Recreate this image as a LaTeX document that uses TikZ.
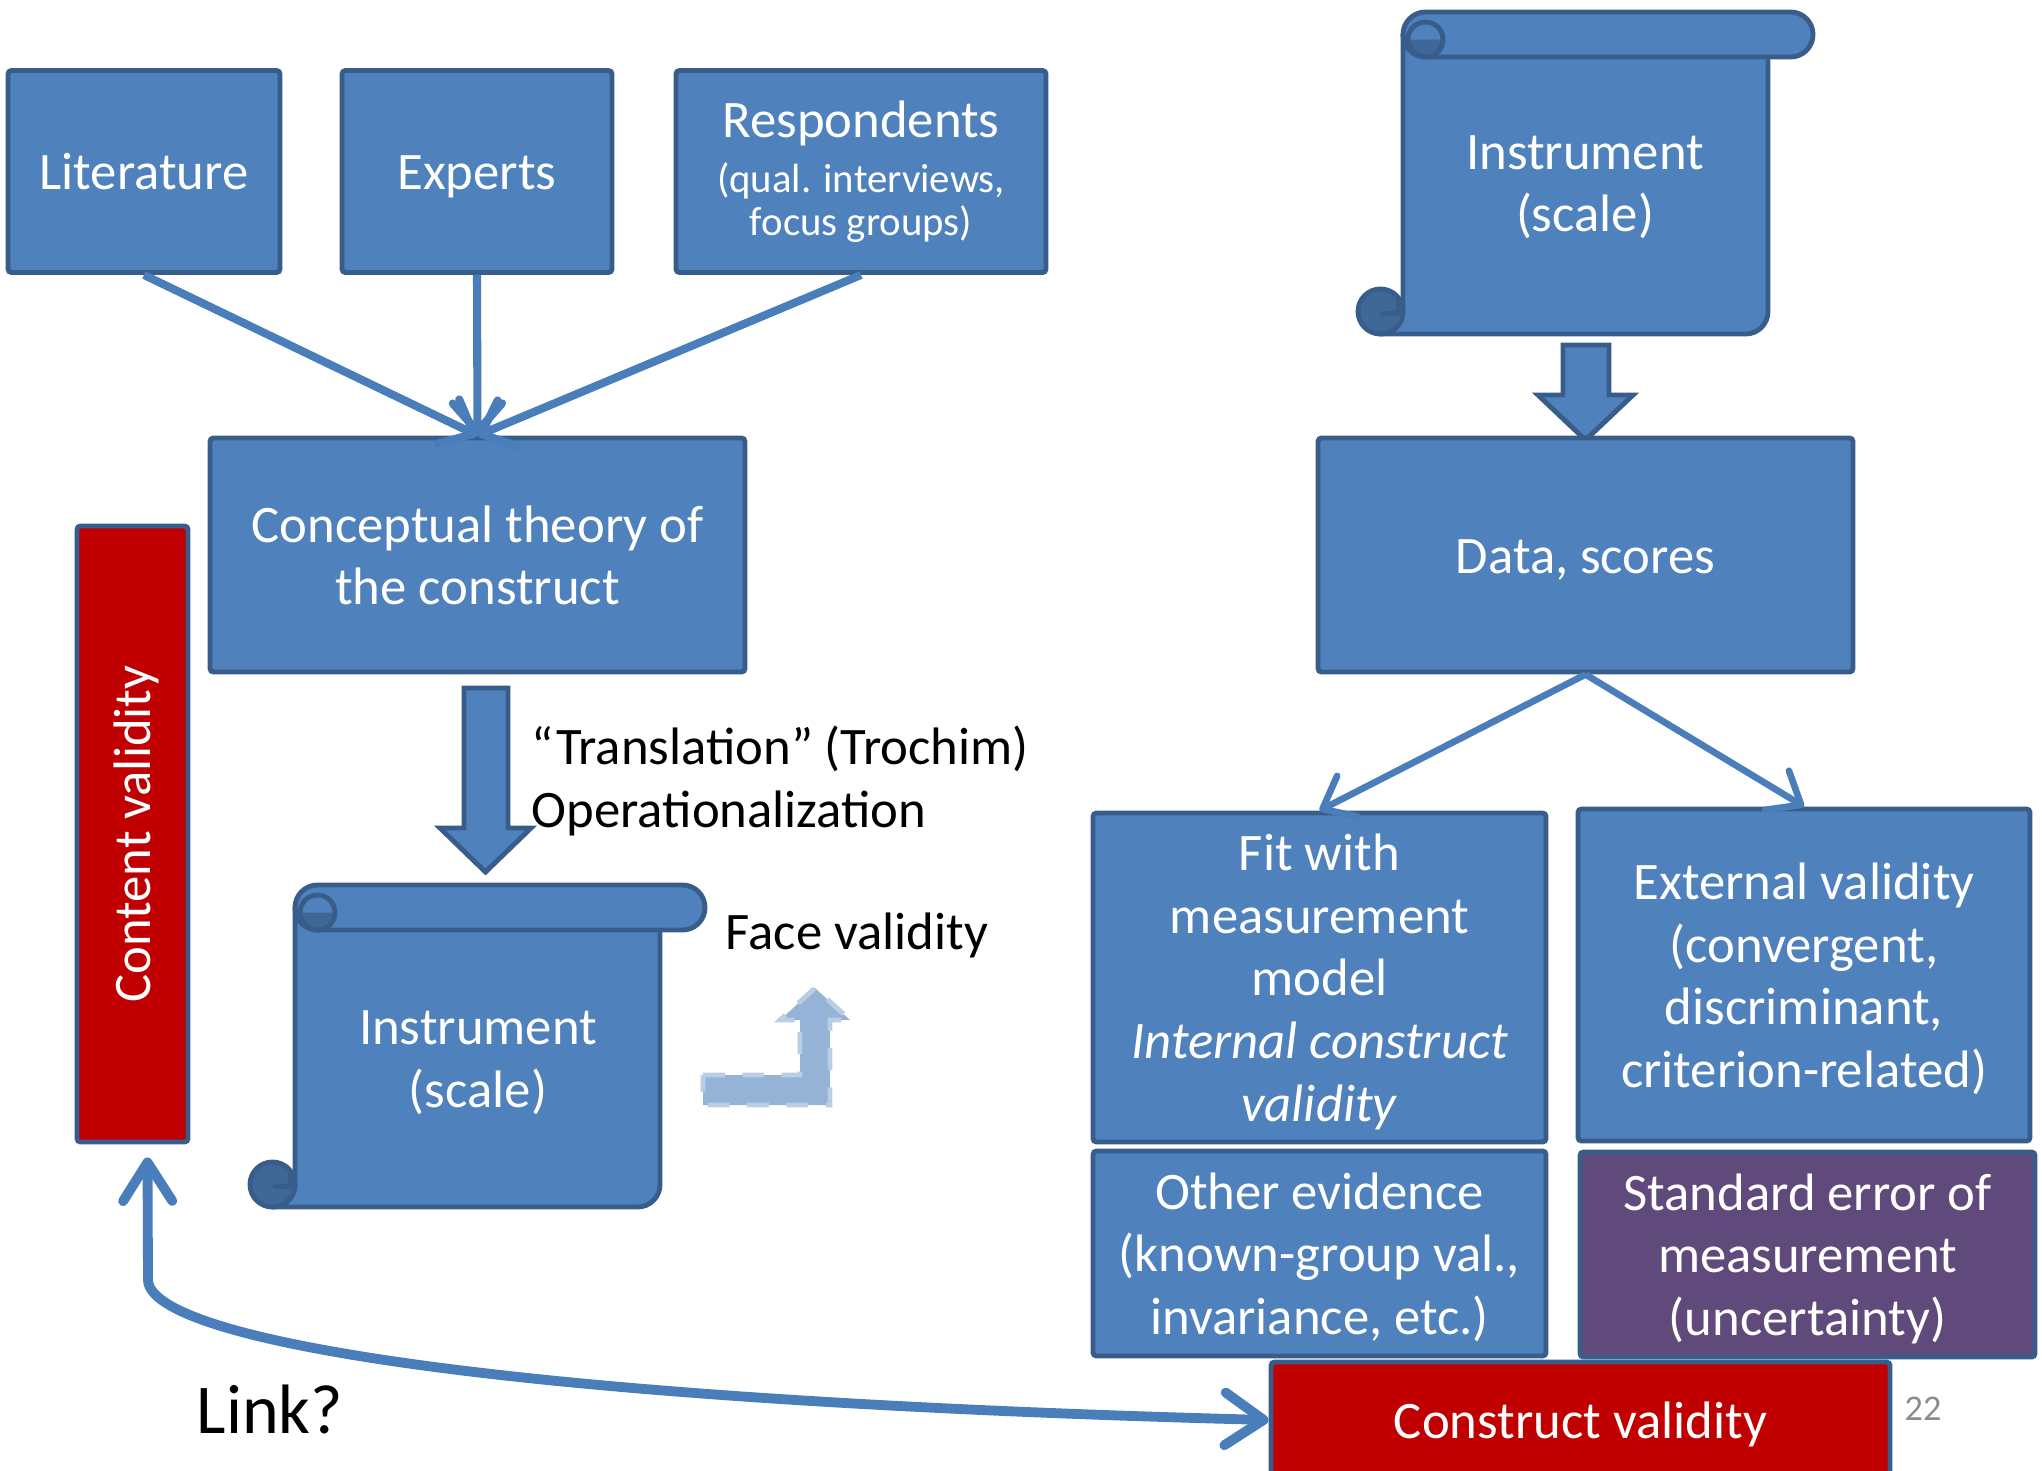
\documentclass[tikz,border=0pt]{standalone}
\usepackage{fontspec}
\setmainfont{Carlito}
\usetikzlibrary{arrows.meta,calc}

\definecolor{boxfill}{HTML}{4F81BD}
\definecolor{boxline}{HTML}{385D8A}
\definecolor{rollfill}{HTML}{3F6797}
\definecolor{redfill}{HTML}{C00000}
\definecolor{purplefill}{HTML}{604A7B}
\definecolor{connline}{HTML}{4A7EBB}
\definecolor{ghostfill}{HTML}{95B3D7}
\definecolor{ghostline}{HTML}{B9CDE5}
\definecolor{pagegray}{HTML}{8C8C8C}

\newcommand\bxfont{\fontsize{15}{17.9}\selectfont}
\newcommand\respsmall{\fontsize{11.6}{12.3}\selectfont}
\newcommand\linkfont{\fontsize{19.9}{23}\selectfont}
\newcommand\pgnumfont{\fontsize{10.3}{12}\selectfont}
% fixed top and bottom extents, so every label sits at the same height in its box
\newcommand\tp{\rule{0pt}{14.5pt}}
\newcommand\bt{\rule[-4pt]{0pt}{4pt}}

\tikzset{
  box/.style={draw=boxline, fill=boxfill, line width=1.4pt, rounded corners=1pt,
    text=white, align=center, inner sep=0pt, font=\bxfont},
  plaintext/.style={text=black, font=\bxfont, inner sep=0pt},
  whitetext/.style={text=white, font=\bxfont, align=center, inner sep=0pt},
  blockarrow/.style={draw=boxline, fill=boxfill, line width=1.4pt, line join=miter},
  conn/.style={draw=connline, line width=2.3pt,
    -{Straight Barb[length=8pt,width=14pt,round]}},
  connthin/.style={draw=connline, line width=1.9pt,
    -{Straight Barb[length=8pt,width=13pt,round]}},
  linkarrow/.style={draw=connline, line width=2.8pt, line cap=round,
    {Straight Barb[length=11pt,width=14pt,round]}-{Straight Barb[length=11pt,width=15pt,round]}},
  % rolled-up scroll, 455 x 322 units, origin at its top-left corner
  scrollshape/.pic={
    \def\w{455}\def\h{322}\def\ch{45}\def\cc{22.5}
    % sheet
    \filldraw[draw=boxline, fill=boxfill, line width=1.4pt, line join=round]
      (\ch,\cc) -- (\ch,\h-\cc) arc[start angle=0, end angle=90, radius=\cc]
      -- (\w-\ch-\cc,\h) arc[start angle=90, end angle=0, radius=\cc]
      -- (\w-\ch,\cc) -- cycle;
    % lower roll
    \filldraw[draw=boxline, fill=rollfill, line width=1.4pt] (\cc,\h-\cc) circle (\cc);
    \draw[boxline, line width=1.2pt, line cap=round]
      (\ch-5,\h-\ch+9) -- (\ch-5,\h-\cc+2) -- (\cc+2,\h-\cc+2);
    % upper roll
    \filldraw[draw=boxline, fill=boxfill, line width=1.4pt, line join=round]
      (\ch+\cc,0) -- (\w-\cc,0) arc[start angle=-90, end angle=90, radius=\cc]
      -- (\ch+\cc,\ch) arc[start angle=90, end angle=270, radius=\cc] -- cycle;
    \fill[rollfill] (\ch+\cc-17.5,\cc+5) arc[start angle=180, end angle=0, radius=17.5] -- cycle;
    \draw[boxline, line width=1.4pt] (\ch+\cc,\cc+5) circle (17.5);
  }
}

\begin{document}
\begin{tikzpicture}[x=0.1mm, y=-0.1mm]
\useasboundingbox (0,0) rectangle (2042,1470);
\clip (0,0) rectangle (2042,1470);

% sources
\node[box, minimum width=27.2mm, minimum height=20.2mm] (lit) at (144,171.5) {\tp Literature\bt};
\node[box, minimum width=27.0mm, minimum height=20.2mm] (exp) at (477,171.5) {\tp Experts\bt};
\node[box, minimum width=37.0mm, minimum height=20.2mm, font=\respsmall] (resp) at (861,171.5)
  {\rule{0pt}{12.1pt}{\bxfont Respondents}\\[3.1pt](qual. interviews,\\focus groups)\rule[-3.5pt]{0pt}{3.5pt}};

% theory
\node[box, minimum width=53.5mm, minimum height=23.4mm] (theory) at (477.5,555)
  {\tp Conceptual theory of\\the construct\bt};

\draw[conn] (lit.south) -- (theory.north);
\draw[conn] (exp.south) -- (theory.north);
\draw[conn] (resp.south) -- (theory.north);

% content validity bar
\node[box, fill=redfill, rotate=90, minimum width=61.6mm, minimum height=11.1mm] (cv) at (132.5,834)
  {\tp Content validity\bt};

% translation step
\filldraw[blockarrow] (464,688) -- (508,688) -- (508,828) -- (531,828) -- (485.5,872)
  -- (440,828) -- (464,828) -- cycle;
\node[plaintext, anchor=west, align=left] (trans) at (531,781)
  {“Translation” (Trochim)\\Operationalization};

% instrument on the left
\pic at (250,885) {scrollshape};
\node[whitetext] (instL) at (478,1057.6) {\tp Instrument\\(scale)\bt};

% face validity
\node[plaintext, anchor=west] (face) at (725,931) {\tp Face validity\bt};
\filldraw[fill=ghostfill, draw=ghostline, line width=1.4pt, dash pattern=on 6.2pt off 5pt]
  (703,1075) -- (800,1075) -- (800,1020) -- (780,1020) -- (815,988) -- (850,1020)
  -- (830,1020) -- (830,1105) -- (703,1105) -- cycle;

% instrument on the right
\pic at (1358,12) {scrollshape};
\node[whitetext] (instR) at (1585,182) {\tp Instrument\\(scale)\bt};

\filldraw[blockarrow] (1563,345) -- (1609,345) -- (1609,395) -- (1633,395) -- (1585.5,440)
  -- (1538,395) -- (1563,395) -- cycle;

\node[box, minimum width=53.5mm, minimum height=23.4mm] (data) at (1585.5,555) {\tp Data, scores\bt};

% evidence boxes
\node[box, minimum width=45.3mm, minimum height=32.9mm] (fit) at (1319.5,977.5)
  {\tp Fit with\\measurement\\model\\\textit{Internal construct}\\\textit{validity}\bt};
\node[box, minimum width=45.2mm, minimum height=33.2mm] (ext) at (1804,975)
  {\tp External validity\\(convergent,\\discriminant,\\criterion-related)\bt};
\node[box, minimum width=45.3mm, minimum height=20.5mm] (other) at (1319.5,1253.5)
  {\tp Other evidence\\(known-group val.,\\invariance, etc.)\bt};
\node[box, fill=purplefill, minimum width=45.5mm, minimum height=20.5mm] (sem) at (1807.5,1254.5)
  {\tp Standard error of\\measurement\\(uncertainty)\bt};

\draw[connthin] (data.south) -- (fit.north);
\draw[connthin] (data.south) -- (ext.north);

% construct validity and the link
\node[box, fill=redfill, minimum width=61.9mm, minimum height=11.6mm] (construct) at (1580.5,1420)
  {\tp Construct validity\bt};

\coordinate (cvtip) at ($(cv.west)+(15,13)$);
\coordinate (bend) at (148,1280);
\draw[linkarrow] (cvtip) -- (bend) .. controls (150,1340) and (500,1400) .. (construct.west);

\node[font=\linkfont, inner sep=0pt] (link) at (270,1409) {Link?};
\node[font=\pgnumfont, text=pagegray, inner sep=0pt] (pagenum) at (1923,1409) {22};
\end{tikzpicture}
\end{document}
